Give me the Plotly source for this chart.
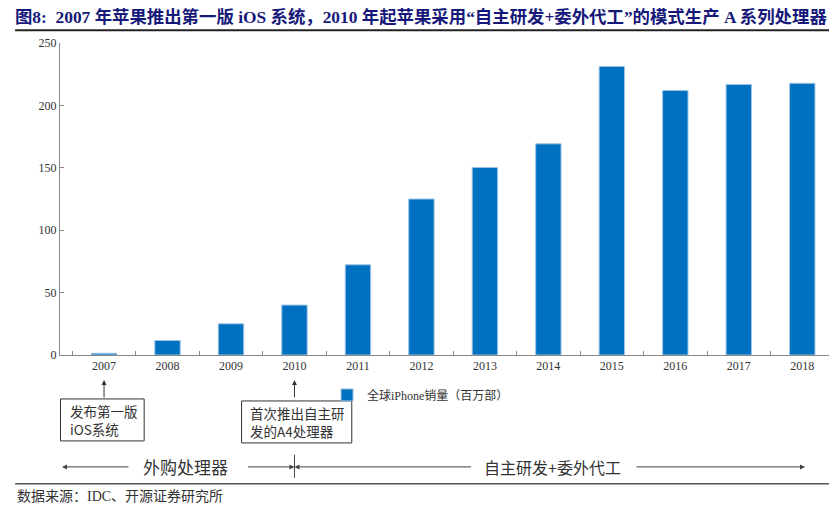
import plotly.graph_objects as go

# iPhone global sales, million units
years = ['2007', '2008', '2009', '2010', '2011', '2012',
         '2013', '2014', '2015', '2016', '2017', '2018']
sales = [1.4, 11.6, 25.0, 40.0, 72.3, 125.0,
         150.2, 169.2, 231.2, 211.9, 216.8, 217.7]
y_ticks = [0, 50, 100, 150, 200, 250]

series_name = '全球iPhone销量（百万部）'
title_text = '图8:  2007 年苹果推出第一版 iOS 系统，2010 年起苹果采用“自主研发+委外代工”的模式生产 A 系列处理器'
source_text = '数据来源：IDC、开源证券研究所'
note_2007 = '发布第一版<br>iOS系统'
note_2010 = '首次推出自主研<br>发的A4处理器'
phase_1 = '外购处理器'
phase_2 = '自主研发+委外代工'

SERIF = 'Liberation Serif, Noto Sans CJK SC'
CJK = 'Noto Sans CJK SC'

# category index positions (annotations on category axes take indices)
i2007 = years.index('2007')
i2010 = years.index('2010')

fig = go.Figure(go.Bar(
    x=years, y=sales, name=series_name,
    marker=dict(color='#0070C0', line=dict(color='#9DC3E6', width=1)),
    showlegend=True,
))

# page body has an 8px margin, so the figure is sized/shifted to compensate
fig.update_layout(
    width=829, height=501,
    margin=dict(l=52, r=3, t=35, b=154),
    paper_bgcolor='white', plot_bgcolor='white',
    bargap=0.6,
    font=dict(family=SERIF, size=12, color='#333333'),
    title=dict(text=title_text, x=0.0084, xanchor='left', y=0.982, yanchor='middle',
               font=dict(family=SERIF, size=17.4, color='#16197a', weight='bold')),
    legend=dict(x=0.345, y=-0.128, xanchor='left', yanchor='middle',
                font=dict(family=SERIF, size=12, color='#333333'),
                itemwidth=30, bgcolor='rgba(0,0,0,0)'),
)
fig.update_xaxes(type='category', showline=True, linecolor='#888888', linewidth=1,
                 ticks='inside', ticklen=4, tickcolor='#888888', tickson='boundaries',
                 showgrid=False, tickangle=0, automargin=False,
                 tickfont=dict(size=12, family=SERIF))
fig.update_yaxes(range=[0, 250], tickvals=y_ticks, showline=True, linecolor='#888888',
                 linewidth=1, ticks='inside', ticklen=4, tickcolor='#888888',
                 showgrid=False, zeroline=False, automargin=False,
                 tickfont=dict(size=12, family=SERIF))

# rules at top and bottom
fig.add_shape(type='line', xref='paper', yref='paper', x0=-0.058, x1=1.004,
              y0=1.0407, y1=1.0407, line=dict(color='#222222', width=2))
fig.add_shape(type='line', xref='paper', yref='paper', x0=-0.058, x1=1.004,
              y0=-0.413, y1=-0.413, line=dict(color='#555555', width=1.5))

# note boxes with arrows to the year labels
notes = [
    dict(idx=i2007, text=note_2007, x0=-0.686, x1=0.632, y0=-0.1409, y1=-0.2754, tx=-0.574),
    dict(idx=i2010, text=note_2010, x0=-0.833, x1=0.903, y0=-0.1473, y1=-0.2818, tx=-0.725),
]
for n in notes:
    fig.add_shape(type='rect', xref='x', yref='paper',
                  x0=n['idx'] + n['x0'], x1=n['idx'] + n['x1'], y0=n['y0'], y1=n['y1'],
                  line=dict(color='#333333', width=1), fillcolor='white')
    fig.add_annotation(x=n['idx'] + n['tx'], xref='x', y=(n['y0'] + n['y1']) / 2,
                       yref='paper', text=n['text'], showarrow=False,
                       xanchor='left', yanchor='middle', align='left',
                       font=dict(family=CJK, size=13.5, color='#333333'))
    fig.add_annotation(x=n['idx'], xref='x', y=-0.080, yref='paper', text='', showarrow=True,
                       ax=0, ay=19, arrowhead=2, arrowsize=1, arrowwidth=1,
                       arrowcolor='#333333')

# timeline row
ty = -0.3586
arrows = [
    dict(x=0.0026, xref='paper', ax=68),
    dict(x=i2010, xref='x', ax=-48),
    dict(x=i2010, xref='x', ax=178),
    dict(x=0.9625, xref='paper', ax=-170),
]
for a in arrows:
    fig.add_annotation(x=a['x'], xref=a['xref'], y=ty, yref='paper', text='',
                       showarrow=True, ax=a['ax'], ay=0, arrowhead=2, arrowsize=1,
                       arrowwidth=1, arrowcolor='#444444')
fig.add_shape(type='line', xref='x', yref='paper', x0=i2010, x1=i2010,
              y0=-0.320, y1=-0.394, line=dict(color='#444444', width=1))
fig.add_annotation(x=0.1615, xref='paper', y=ty, yref='paper', text=phase_1,
                   showarrow=False, bgcolor='white', xanchor='center', yanchor='middle',
                   font=dict(family=CJK, size=17, color='#333333'))
fig.add_annotation(x=0.6357, xref='paper', y=ty, yref='paper', text=phase_2,
                   showarrow=False, bgcolor='white', xanchor='center', yanchor='middle',
                   font=dict(family=CJK, size=16, color='#333333'))

# source
fig.add_annotation(x=-0.058, xref='paper', y=-0.4547, yref='paper', text=source_text,
                   showarrow=False, xanchor='left', yanchor='middle',
                   font=dict(family=SERIF, size=14, color='#333333'))

fig.write_html("out.html")
